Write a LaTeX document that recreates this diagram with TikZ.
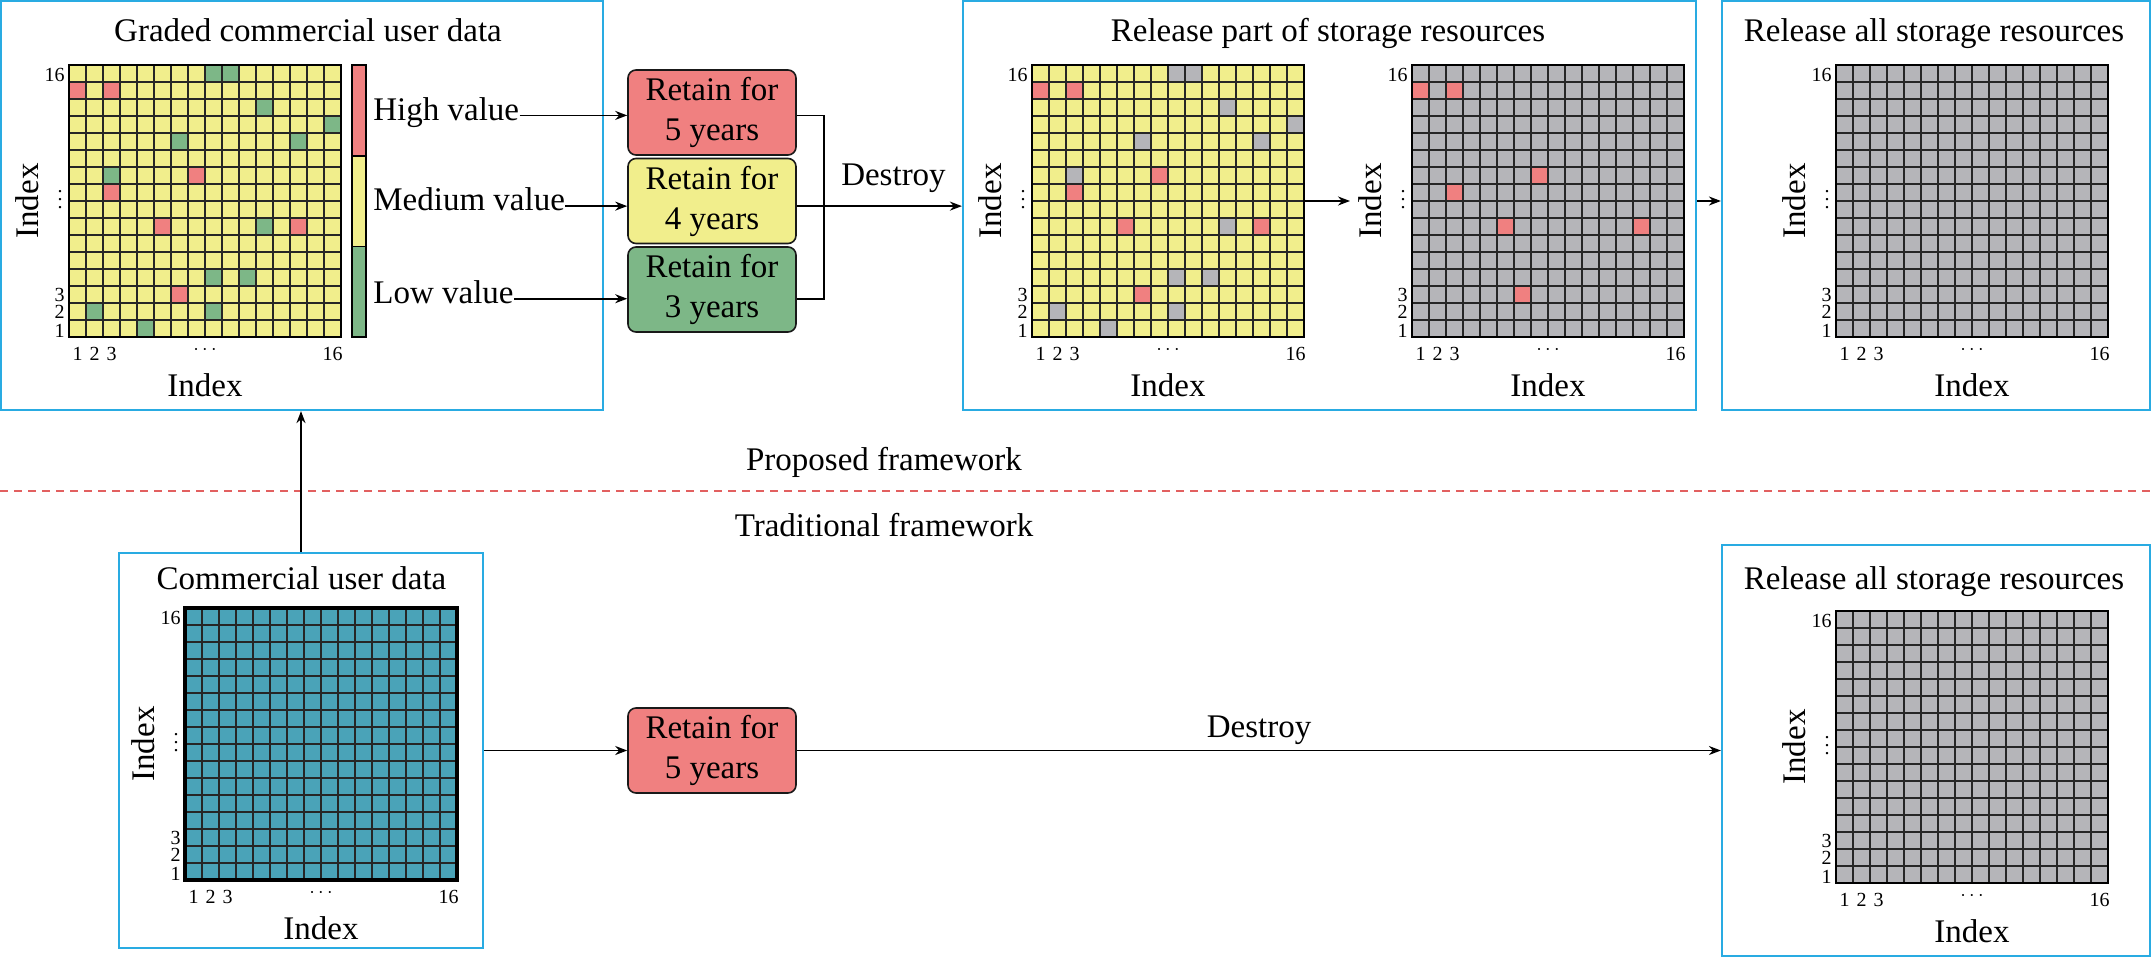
\documentclass[tikz,border=0pt]{standalone}
\usepackage{fontspec}
\setmainfont{Liberation Serif}
\usetikzlibrary{arrows.meta,fit}
\definecolor{cyel}{RGB}{241,238,140}
\definecolor{cred}{RGB}{240,128,128}
\definecolor{cgrn}{RGB}{125,183,135}
\definecolor{cgry}{RGB}{181,181,185}
\definecolor{cteal}{RGB}{74,163,184}
\definecolor{cblue}{RGB}{41,171,226}
\definecolor{cdash}{RGB}{226,96,96}
\newcommand{\mainsz}{\fontsize{16.5}{20}\selectfont}
\newcommand{\ticksz}{\fontsize{10}{11}\selectfont}
\tikzset{
  fbox/.style={draw=cblue, line width=1.1pt, inner sep=0pt},
  gl/.style={draw=black!85, line width=0.55pt},
  tick/.style={font=\ticksz, inner sep=0pt},
  lab/.style={font=\mainsz, inner sep=0pt},
  keep/.style={draw=black!90, line width=0.8pt, rounded corners=4pt, minimum width=84pt, minimum height=42.5pt, align=center, font=\mainsz, inner sep=0pt},
  arr/.style={-{Stealth[length=6pt,width=4.5pt]}, line width=0.9pt},
  conn/.style={line width=0.9pt},
}
% grid helpers (coordinates in px, y downwards)
\newcommand{\DGrid}[3]{\fill[#3] (#1,#2) rectangle ++(272,272);}
\newcommand{\DCell}[5]{\fill[#5] ({#1+(#3-1)*17},{#2+(16-#4)*17}) rectangle ++(17,17);}
\newcommand{\DLines}[3]{%
  \foreach \i in {1,...,15}{%
    \draw[gl] ({#1+\i*17},#2) -- ++(0,272);
    \draw[gl] (#1,{#2+\i*17}) -- ++(272,0);
  }%
  \draw[line width=#3] (#1,#2) rectangle ++(272,272);}
\newcommand{\DTicks}[2]{%
  \node[tick, anchor=east] at ({#1-4},{#2+10}) {16};
  \node[tick, anchor=east] at ({#1-4},{#2+229.5}) {3};
  \node[tick, anchor=east] at ({#1-4},{#2+247}) {2};
  \node[tick, anchor=east] at ({#1-4},{#2+266}) {1};
  \node[tick] at ({#1-9},{#2+129}) {$\vdots$};
  \node[tick] at ({#1+8.5},{#2+289}) {1};
  \node[tick] at ({#1+25.5},{#2+289}) {2};
  \node[tick] at ({#1+42.5},{#2+289}) {3};
  \node[tick] at ({#1+136},{#2+285}) {$\cdots$};
  \node[tick] at ({#1+263.5},{#2+289}) {16};
  \node[lab, rotate=90] at ({#1-42},{#2+136}) {Index};
  \node[lab] at ({#1+136},{#2+320}) {Index};}
\def\greenlist{9/16,10/16,12/14,16/13,7/12,14/12,3/10,12/7,9/4,11/4,2/2,9/2,5/1}
\def\redlist{1/15,3/15,8/10,3/9,6/7,14/7,7/3}
\begin{document}
\begin{tikzpicture}[x=0.5pt,y=-0.5pt]
\useasboundingbox (0,0) rectangle (2152,958);

% ---------- frames ----------
\node[fbox, fit={(1,1)(603,410)}] (b1) {};
\node[fbox, fit={(963,1)(1696,410)}] (b2) {};
\node[fbox, fit={(1722,1)(2150,410)}] (b3) {};
\node[fbox, fit={(119,553)(483,948)}] (b4) {};
\node[fbox, fit={(1722,545)(2150,956)}] (b6) {};

% ---------- titles ----------
\node[lab, anchor=base] (t1) at (308,41.5) {Graded commercial user data};
\node[lab, anchor=base] (t2) at (1328,41.5) {Release part of storage resources};
\node[lab, anchor=base] (t3) at (1934,41.5) {Release all storage resources};
\node[lab, anchor=base] (t4) at (301.5,589) {Commercial user data};
\node[lab, anchor=base] (t6) at (1934,589) {Release all storage resources};

% ---------- grid 1 : graded ----------
\DGrid{69}{65}{cyel}
\foreach \c/\r in \greenlist {\DCell{69}{65}{\c}{\r}{cgrn}}
\foreach \c/\r in \redlist {\DCell{69}{65}{\c}{\r}{cred}}
\DLines{69}{65}{1pt}
\DTicks{69}{65}
\node[fit={(69,65)(341,337)}, inner sep=0pt] (g1) {};

% colour bar
\fill[cred] (352,65) rectangle (366,155.7);
\fill[cyel] (352,155.7) rectangle (366,246.3);
\fill[cgrn] (352,246.3) rectangle (366,337);
\draw[line width=0.8pt] (352,65) rectangle (366,337);
\draw[line width=0.8pt] (352,155.7) -- (366,155.7) (352,246.3) -- (366,246.3);
\node[lab, anchor=base west] (hv) at (373,120) {High value};
\node[lab, anchor=base west] (mv) at (373,210.7) {Medium value};
\node[lab, anchor=base west] (lv) at (373,303.3) {Low value};

% retain boxes
\node[keep, fill=cred] (r5) at (712,112.5) {Retain for\\5 years};
\node[keep, fill=cyel] (r4) at (712,201) {Retain for\\4 years};
\node[keep, fill=cgrn] (r3) at (712,289.5) {Retain for\\3 years};
\draw[arr] (hv.mid east) -- (hv.mid east -| r5.west);
\draw[arr] (mv.mid east) -- (mv.mid east -| r4.west);
\draw[arr] (lv.mid east) -- (lv.mid east -| r3.west);
\coordinate (jn) at (824,201.7);
\draw[conn] (hv.mid east -| r5.east) -| (jn) |- (lv.mid east -| r3.east);
\draw[arr] (mv.mid east -| r4.east) -- (mv.mid east -| b2.west);
\node[lab, anchor=base] (d1) at (893.5,185) {Destroy};

% ---------- grid 2 : release part ----------
\DGrid{1032}{65}{cyel}
\foreach \c/\r in \greenlist {\DCell{1032}{65}{\c}{\r}{cgry}}
\foreach \c/\r in \redlist {\DCell{1032}{65}{\c}{\r}{cred}}
\DLines{1032}{65}{1pt}
\DTicks{1032}{65}
\node[fit={(1032,65)(1304,337)}, inner sep=0pt] (g2) {};

% ---------- grid 3 ----------
\DGrid{1412}{65}{cgry}
\foreach \c/\r in \redlist {\DCell{1412}{65}{\c}{\r}{cred}}
\DLines{1412}{65}{1pt}
\DTicks{1412}{65}
\node[fit={(1412,65)(1684,337)}, inner sep=0pt] (g3) {};
\coordinate (g3in) at (1350,201);
\draw[arr] (g2.east) -- (g3in);
\draw[arr] (b2.east |- g3in) -- (b3.west |- g3in);

% ---------- grid 4 ----------
\DGrid{1836}{65}{cgry}
\DLines{1836}{65}{1pt}
\DTicks{1836}{65}
\node[fit={(1836,65)(2108,337)}, inner sep=0pt] (g4) {};

% ---------- separator ----------
\coordinate (sepL) at (0,490.5);
\coordinate (sepR) at (2152,490.5);
\draw[cdash, line width=1pt, dash pattern=on 4.2pt off 2.8pt] (sepL) -- (sepR);
\node[lab, anchor=base] (pf) at (884,470) {Proposed framework};
\node[lab, anchor=base] (tf) at (884,536) {Traditional framework};

% ---------- grid 5 : commercial ----------
\DGrid{185}{608}{cteal}
\DLines{185}{608}{1.6pt}
\DTicks{185}{608}
\node[fit={(185,608)(457,880)}, inner sep=0pt] (g5) {};

\node[keep, fill=cred] (r5b) at (712,750.5) {Retain for\\5 years};
\draw[arr] (b4.north) -- (b4.north |- b1.south);
\draw[arr] (b4.east) -- (r5b.west);
\draw[arr] (r5b.east) -- (r5b.east -| b6.west);
\node[lab, anchor=base] (d2) at (1259,737) {Destroy};

% ---------- grid 6 ----------
\DGrid{1836}{611}{cgry}
\DLines{1836}{611}{1pt}
\DTicks{1836}{611}
\node[fit={(1836,611)(2108,883)}, inner sep=0pt] (g6) {};
\end{tikzpicture}
\end{document}
